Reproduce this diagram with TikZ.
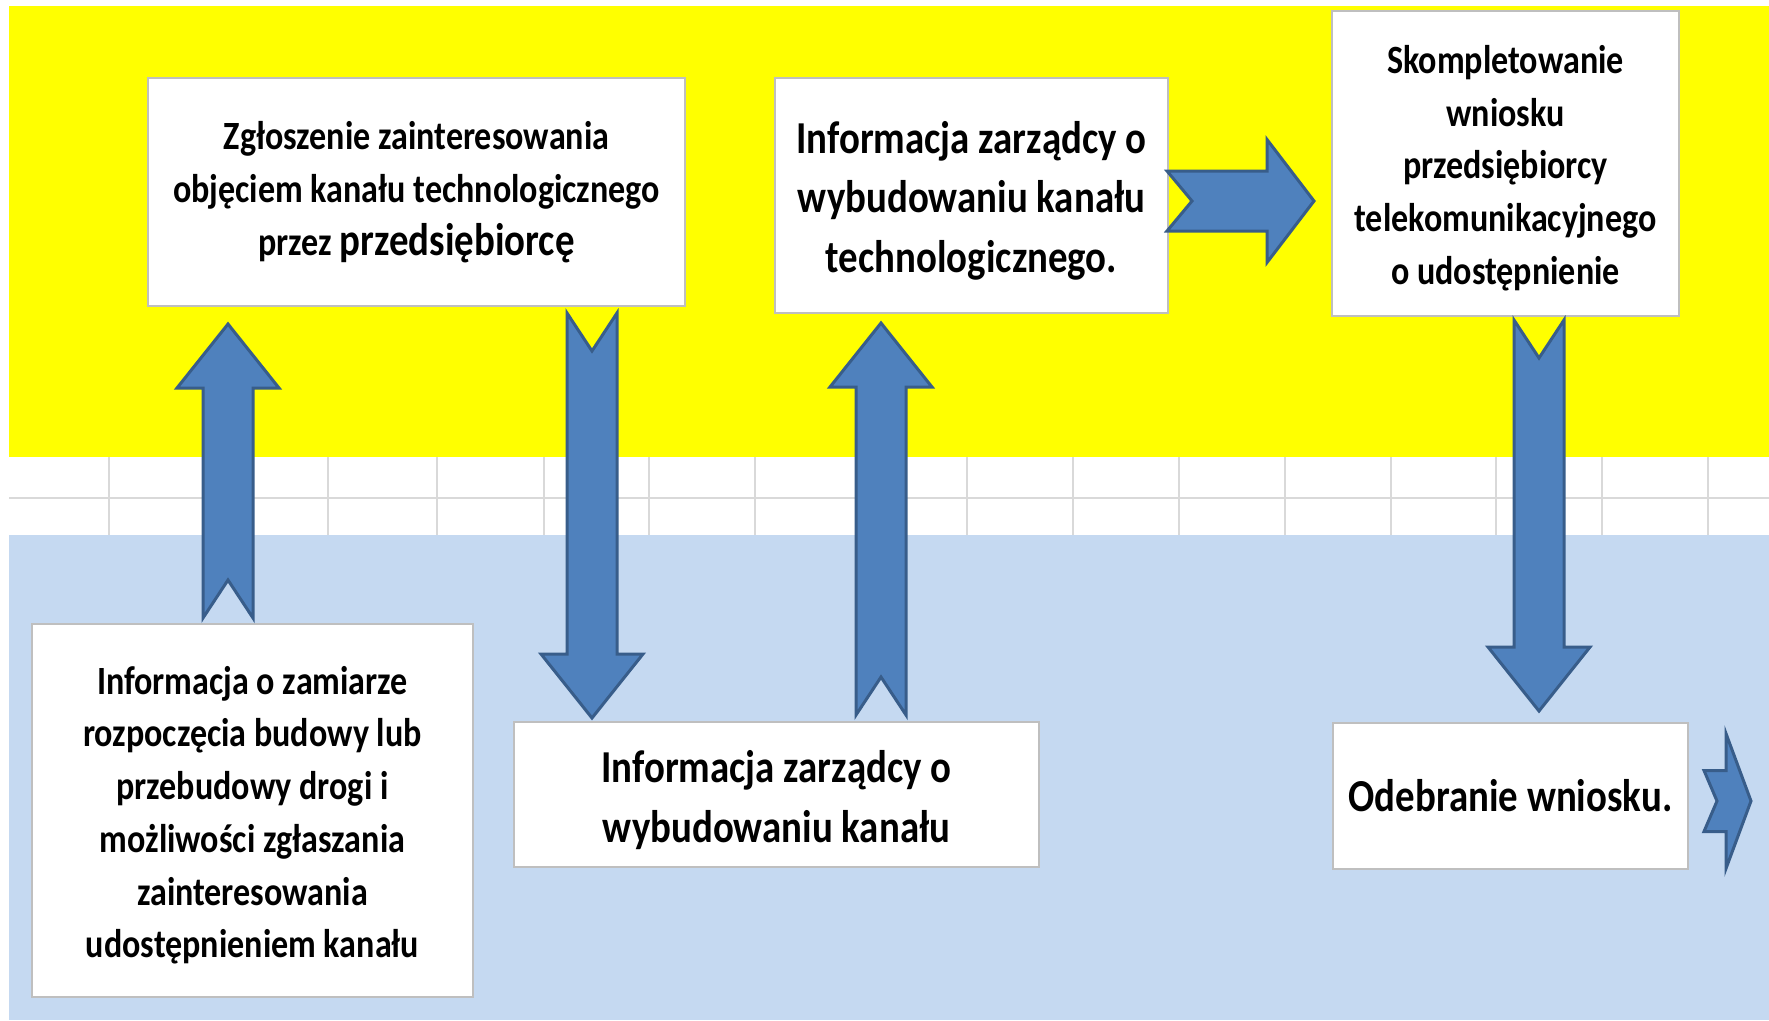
\documentclass[tikz,border=0pt]{standalone}
\usepackage{fontspec}
\setmainfont[FakeStretch=0.85]{Carlito}
\usetikzlibrary{calc}

\newlength{\du}
\setlength{\du}{0.01cm}

\definecolor{yellowbg}{HTML}{FFFF00}
\definecolor{bluebg}{HTML}{C5D9F1}
\definecolor{arrowblue}{HTML}{4F81BD}
\definecolor{arrowedge}{HTML}{385D8A}
\definecolor{gridgray}{HTML}{D9D9D9}
\definecolor{boxline}{HTML}{BFBFBF}

\newcommand{\smallboxfont}{\fontsize{11.4}{15}\selectfont\bfseries}
\newcommand{\largeboxfont}{\fontsize{13}{17}\selectfont\bfseries}
\newcommand{\topstrut}{\rule{0pt}{0.93em}}

\tikzset{
  box/.style={draw=boxline, line width=1.5\du, fill=white, align=center, inner sep=0pt},
  blockarrow/.style={fill=arrowblue, draw=arrowedge, line width=3\du, line join=miter}
}

% block arrows: #1 tail, #2 tip
\newcommand{\upblock}[2]{%
\draw[blockarrow] ($(#1)+(-25\du,0)$) -- ($(#2)+(-25\du,64\du)$) -- ($(#2)+(-51\du,64\du)$) -- (#2)
  -- ($(#2)+(51\du,64\du)$) -- ($(#2)+(25\du,64\du)$) -- ($(#1)+(25\du,0)$) -- ($(#1)+(0,-38\du)$) -- cycle;}
\newcommand{\downblock}[2]{%
\draw[blockarrow] ($(#1)+(-25\du,0)$) -- ($(#2)+(-25\du,-64\du)$) -- ($(#2)+(-51\du,-64\du)$) -- (#2)
  -- ($(#2)+(51\du,-64\du)$) -- ($(#2)+(25\du,-64\du)$) -- ($(#1)+(25\du,0)$) -- ($(#1)+(0,38\du)$) -- cycle;}
% #3 shaft half, #4 head half, #5 head length, #6 notch
\newcommand{\rightblock}[6]{%
\draw[blockarrow] ($(#1)+(0,-#3\du)$) -- ($(#2)+(-#5\du,-#3\du)$) -- ($(#2)+(-#5\du,-#4\du)$) -- (#2)
  -- ($(#2)+(-#5\du,#4\du)$) -- ($(#2)+(-#5\du,#3\du)$) -- ($(#1)+(0,#3\du)$) -- ($(#1)+(#6\du,0)$) -- cycle;}

\begin{document}
\begin{tikzpicture}
\pgftransformxscale{1.000000}
\pgftransformyscale{-1.000000}
\useasboundingbox (0\du,0\du) rectangle (1769\du,1020\du);
% background bands
\fill[yellowbg] (9\du,6\du) rectangle (1769\du,457\du);
\fill[bluebg] (9\du,535\du) rectangle (1769\du,1020\du);
\foreach \gx in {109,215,328,437,544,649,755,861,967,1073,1179,1285,1391,1496,1602,1708}
  \draw[gridgray, line width=1.5\du] (\gx\du,457\du) -- (\gx\du,535\du);
\draw[gridgray, line width=2.5\du] (9\du,498\du) -- (1769\du,498\du);
% boxes
\node[box, font=\smallboxfont, minimum width=537\du, minimum height=228\du] (zgloszenie) at (416.5\du,192\du)
  {Zgłoszenie zainteresowania\\objęciem kanału technologicznego\\przez {\fontsize{13}{15}\selectfont przedsiębiorcę}};
\node[box, font=\largeboxfont, minimum width=393\du, minimum height=235\du] (infotech) at (971.5\du,195.5\du)
  {\topstrut Informacja zarządcy o\\wybudowaniu kanału\\technologicznego.};
\node[box, font=\smallboxfont, minimum width=347\du, minimum height=305\du] (skompletowanie) at (1505.5\du,163.5\du)
  {\topstrut Skompletowanie\\wniosku\\przedsiębiorcy\\telekomunikacyjnego\\o udostępnienie};
\node[box, font=\smallboxfont, minimum width=441\du, minimum height=373\du] (zamiar) at (252.5\du,810.5\du)
  {\topstrut Informacja o zamiarze\\rozpoczęcia budowy lub\\przebudowy drogi i\\możliwości zgłaszania\\zainteresowania\\udostępnieniem kanału};
\node[box, font=\largeboxfont, minimum width=525\du, minimum height=145\du] (infokanal) at (776.5\du,794.5\du)
  {\topstrut Informacja zarządcy o\\wybudowaniu kanału};
\node[box, font=\largeboxfont, minimum width=355\du, minimum height=146\du] (odebranie) at (1510.5\du,796\du)
  {Odebranie wniosku.};
% arrow ends
\coordinate (zamiartail) at (228\du,618\du);
\coordinate (zgloszeniettip) at (228\du,324\du);
\coordinate (zgloszenietail) at (592\du,313\du);
\coordinate (infokanaltip) at (592\du,718\du);
\coordinate (infokanaltail) at (881\du,715\du);
\coordinate (infotechtip) at (881\du,323\du);
\coordinate (infotechtail) at (1167\du,201\du);
\coordinate (skompletowanietip) at (1314\du,201\du);
\coordinate (skompletowanietail) at (1539\du,320\du);
\coordinate (odebranietip) at (1539\du,711\du);
\coordinate (odebranietail) at (1704\du,801\du);
\coordinate (dalejtip) at (1751\du,801\du);
% arrows
\upblock{zamiartail}{zgloszeniettip}
\downblock{zgloszenietail}{infokanaltip}
\upblock{infokanaltail}{infotechtip}
\rightblock{infotechtail}{skompletowanietip}{30}{61.5}{47}{25}
\downblock{skompletowanietail}{odebranietip}
\rightblock{odebranietail}{dalejtip}{30.5}{67.5}{25}{13}
\end{tikzpicture}
\end{document}
